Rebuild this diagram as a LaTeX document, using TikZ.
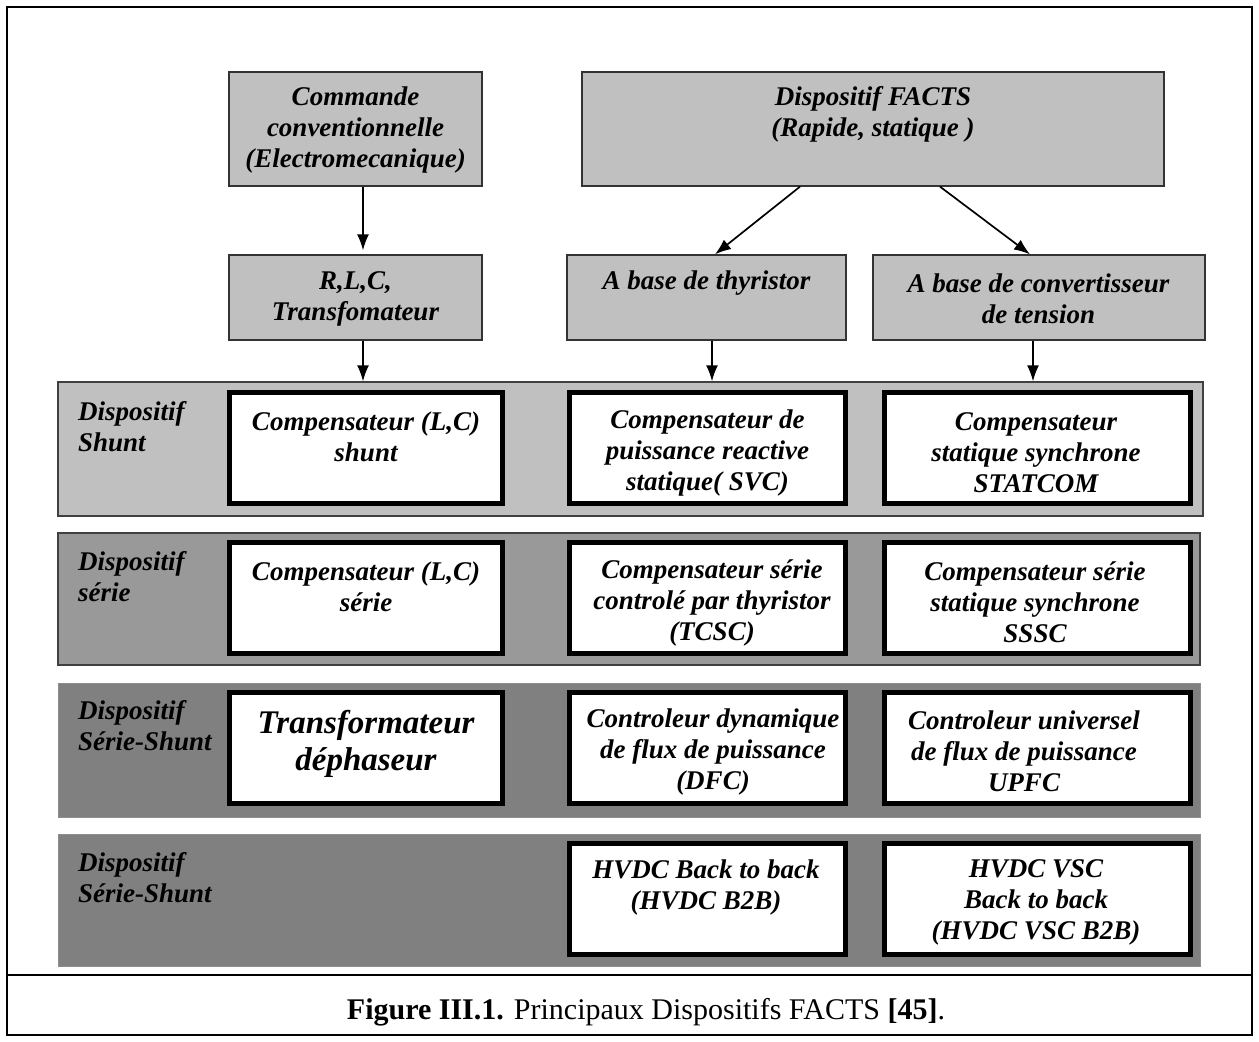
\documentclass[tikz,border=0pt]{standalone}
\usepackage{fontspec}
\setmainfont{Liberation Serif}
\usetikzlibrary{arrows.meta}
\definecolor{lightg}{HTML}{C0C0C0}
\definecolor{midg}{HTML}{999999}
\definecolor{darkg}{HTML}{808080}
\begin{document}
\begin{tikzpicture}[x=1pt,y=-1pt,
  graybox/.style={draw=black!80, line width=1.3pt, fill=lightg, inner sep=0pt},
  whitebox/.style={draw=black, line width=5pt, fill=white, inner sep=0pt, minimum height=111},
  band/.style={inner sep=0pt, minimum width=1145, minimum height=133},
  lbl/.style={align=center, inner sep=0pt, font=\fontsize{27}{31}\selectfont\bfseries\itshape},
  bandlbl/.style={align=left, anchor=west, inner sep=0pt, font=\fontsize{27}{31}\selectfont\bfseries\itshape},
  arr/.style={line width=1.7pt, -{Latex[length=16pt,width=12pt]}}
]
\useasboundingbox (0,0) rectangle (1259,1042);
\fill[white] (0,0) rectangle (1259,1042);
% outer frame
\draw[line width=2pt] (7,7) rectangle (1252,1035);
\draw[line width=2pt] (7,975) -- (1252,975);

% top boxes
\node[graybox, minimum width=253, minimum height=114] (cc) at (355.5,129) {};
\node[graybox, minimum width=582, minimum height=114] (facts) at (873,129) {};
\node[graybox, minimum width=253, minimum height=85] (rlc) at (355.5,297.5) {};
\node[graybox, minimum width=279, minimum height=85] (thy) at (706.5,297.5) {};
\node[graybox, minimum width=332, minimum height=85] (conv) at (1039,297.5) {};

\node[lbl] (cct) at (355.5,130) {Commande\\conventionnelle\\(Electromecanique)};
\node[lbl] (factst) at (873,114) {Dispositif FACTS\\(Rapide, statique )};
\node[lbl] (rlct) at (355.5,299) {R,L,C,\\Transfomateur};
\node[lbl] (thyt) at (706.5,283) {A base de thyristor};
\node[lbl] (convt) at (1038.5,299) {A base de convertisseur\\de tension};

% bands
\node[band, draw=black!75, line width=1.3pt, fill=lightg, minimum height=134] (b1) at (630.5,449) {};
\node[band, draw=black!75, line width=1.3pt, fill=midg, minimum width=1142, minimum height=132] (b2) at (629,599) {};
\node[band, draw=darkg!90, line width=1pt, fill=darkg, minimum width=1142, minimum height=134] (b3) at (629,750) {};
\node[band, draw=darkg!90, line width=1pt, fill=darkg, minimum width=1142, minimum height=132] (b4) at (629,900) {};

\node[bandlbl] (l1) at (78,426.5) {Dispositif\\Shunt};
\node[bandlbl] (l2) at (78,576.5) {Dispositif\\série};
\node[bandlbl] (l3) at (78,725.5) {Dispositif\\Série-Shunt};
\node[bandlbl] (l4) at (78,877.5) {Dispositif\\Série-Shunt};

% white boxes
\node[whitebox, minimum width=273] (s1) at (366,448) {};
\node[whitebox, minimum width=276] (s2) at (707.5,448) {};
\node[whitebox, minimum width=306] (s3) at (1037.5,448) {};
\node[whitebox, minimum width=273] (r1) at (366,598) {};
\node[whitebox, minimum width=276] (r2) at (707.5,598) {};
\node[whitebox, minimum width=306] (r3) at (1037.5,598) {};
\node[whitebox, minimum width=273] (t1) at (366,748) {};
\node[whitebox, minimum width=276] (t2) at (707.5,748) {};
\node[whitebox, minimum width=306] (t3) at (1037.5,748) {};
\node[whitebox, minimum width=276] (h2) at (707.5,898.5) {};
\node[whitebox, minimum width=306] (h3) at (1037.5,898.5) {};

\node[lbl] at (366,436.5) {Compensateur (L,C)\\shunt};
\node[lbl] at (707.5,452.5) {Compensateur de\\puissance reactive\\statique( SVC)};
\node[lbl] at (1036,452.5) {Compensateur\\statique synchrone\\STATCOM};
\node[lbl] at (366,586.5) {Compensateur (L,C)\\série};
\node[lbl] at (712,602.5) {Compensateur série\\controlé par thyristor\\(TCSC)};
\node[lbl] at (1035,602.5) {Compensateur série\\statique synchrone\\SSSC};
\node[lbl, font=\fontsize{33}{37}\selectfont\bfseries\itshape] at (366,744) {Transformateur\\déphaseur};
\node[lbl] at (713,751.5) {Controleur dynamique\\de flux de puissance\\(DFC)};
\node[lbl] at (1024,751.5) {Controleur universel\\de flux de puissance\\UPFC};
\node[lbl] at (706,887) {HVDC Back to back\\(HVDC B2B)};
\node[lbl] at (1036,902.5) {HVDC VSC\\Back to back\\(HVDC VSC B2B)};

% arrows
\draw[arr, shorten >=4pt] ([xshift=7.5pt]cc.south) -- ([xshift=7.5pt]rlc.north);
\draw[arr] ([xshift=-73pt]facts.south) -- ([xshift=8.5pt]thy.north);
\draw[arr] ([xshift=67pt]facts.south) -- ([xshift=-9pt]conv.north);
\draw[arr] ([xshift=7.5pt]rlc.south) -- ([xshift=7.5pt]rlc.south |- b1.north);
\draw[arr] ([xshift=5.5pt]thy.south) -- ([xshift=5.5pt]thy.south |- b1.north);
\draw[arr] ([xshift=-6pt]conv.south) -- ([xshift=-6pt]conv.south |- b1.north);

% caption
\node[inner sep=0pt, font=\fontsize{30}{34}\selectfont] (cap) at (646,1012) {\textbf{Figure III.1.} Principaux Dispositifs FACTS \textbf{[45]}.};
\end{tikzpicture}
\end{document}
